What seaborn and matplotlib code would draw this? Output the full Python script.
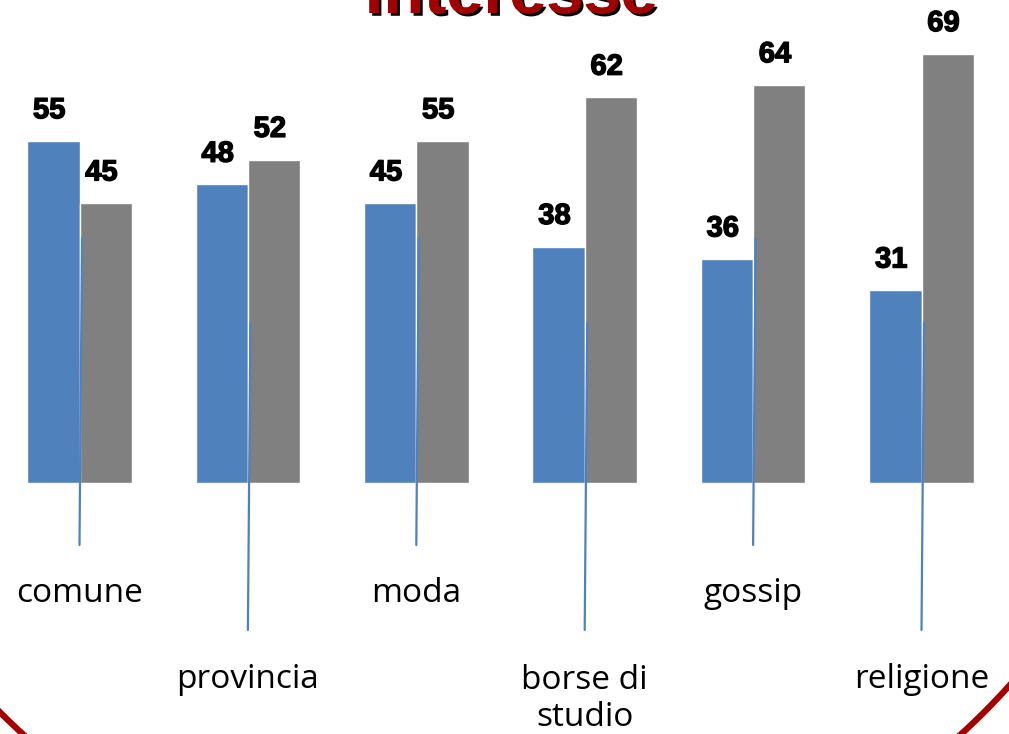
import pandas as pd
import seaborn as sns
import matplotlib.pyplot as plt
import matplotlib.patheffects as pe
from matplotlib.patches import Ellipse

categorie = ["comune", "provincia", "moda", "borse di\nstudio", "gossip", "religione"]
serie = ["A", "B"]
valori_a = [55, 48, 45, 38, 36, 31]
valori_b = [45, 52, 55, 62, 64, 69]

blu = "#4F81BD"
grigio = "#808080"
rosso = "#A00000"

df = pd.DataFrame({
    "cat": categorie * 2,
    "serie": ["A"] * len(categorie) + ["B"] * len(categorie),
    "val": valori_a + valori_b,
})

sns.set_style("white")
plt.rcParams['font.family'] = ['Open Sans', 'DejaVu Sans']

fig = plt.figure(figsize=(10.09, 7.34), dpi=100)
ax = fig.add_axes([0, 0, 1, 1])
sns.barplot(data=df, x="cat", y="val", hue="serie", palette=[blu, grigio],
            width=0.62, gap=0, saturation=1, legend=False, ax=ax)

# scale: baseline at 483px, ~6.22 px per unit, centers 168.4 px apart
ax.set_xlim(-79.5 / 168.4, (1009 - 79.5) / 168.4)
ax.set_ylim(-(734 - 483) / 6.22, 483 / 6.22)
ax.set_axis_off()

# value labels, slightly left of bar centre
for cont in ax.containers:
    for p in cont.patches:
        ax.annotate(f"{p.get_height():.0f}",
                    (p.get_x() + p.get_width() / 2, p.get_height()),
                    xytext=(-3, 12), textcoords="offset points",
                    ha="center", va="bottom", fontsize=21, fontweight="bold",
                    family="Liberation Sans", color="black",
                    path_effects=[pe.withStroke(linewidth=1.0, foreground="black")])

# leader lines + category labels (staggered)
for i, cat in enumerate(categorie):
    if i % 2 == 0:
        y_top, y_bot, y_lab = 238, 545, 593
    else:
        y_top, y_bot, y_lab = 323, 630, 679
    ax.plot([i + 0.015, i], [(483 - y_top) / 6.22, (483 - y_bot) / 6.22],
            color=blu, lw=1.6, zorder=5)
    if "\n" in cat:
        y_lab = 699
    ax.text(i, 1 - y_lab / 734, cat, transform=ax.get_xaxis_transform(),
            ha="center", va="center", fontsize=24, color="black",
            linespacing=1.15)

# title, cut at the top edge
fig.text(511 / 1009, 1 - 13 / 734, "interesse", ha="center", va="baseline",
         fontsize=48, fontweight="bold", family="Liberation Sans", color=rosso,
         path_effects=[pe.withSimplePatchShadow(offset=(2, -2), shadow_rgbFace="black", alpha=1),
                       pe.Normal()])

# big circle frame
fig.add_artist(Ellipse((492 / 1009, 514 / 734), 1392 / 1009, 1392 / 734,
                       transform=fig.transFigure, fill=False, ec="#A50000", lw=4.5))

fig.savefig("out.png", dpi=100)
